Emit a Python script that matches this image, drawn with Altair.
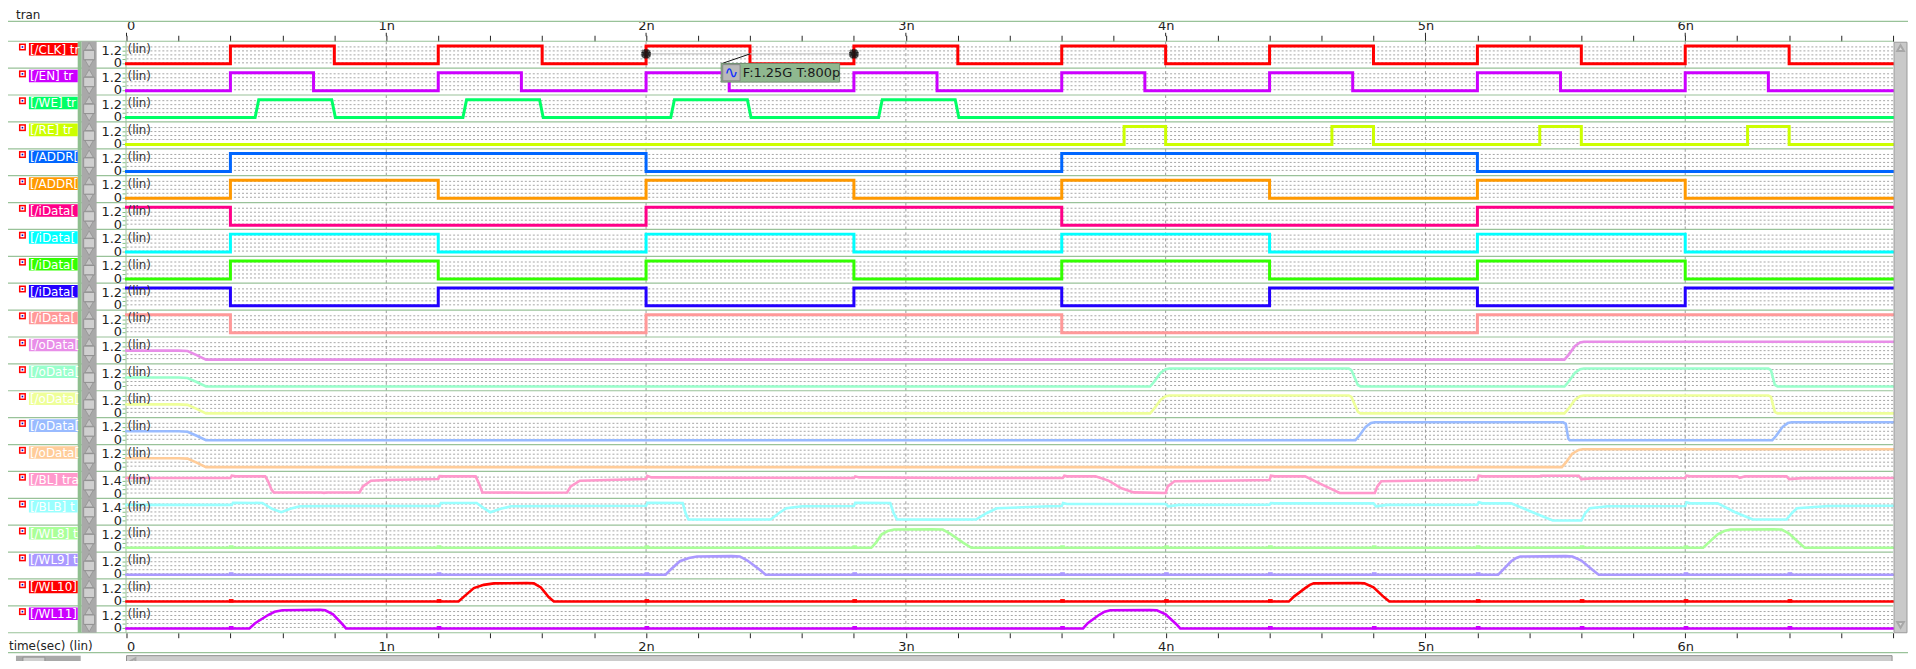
import altair as alt
import pandas as pd

# ---------------- layout constants ----------------
T_END = 6.8
ROW_H = 27.0
N_ROWS = 22
PLOT_W = 1774
PLOT_H = 594
FONT = "DejaVu Sans"

# ---------------- categories ----------------
NAMES = ["[/CLK] tran", "[/EN] tran", "[/WE] tran", "[/RE] tran",
         "[/ADDR[1]] tran", "[/ADDR[0]] tran",
         "[/iData[4]] tran", "[/iData[3]] tran", "[/iData[2]] tran",
         "[/iData[1]] tran", "[/iData[0]] tran",
         "[/oData[4]] tran", "[/oData[3]] tran", "[/oData[2]] tran",
         "[/oData[1]] tran", "[/oData[0]] tran",
         "[/BL] tran", "[/BLB] tran", "[/WL8] tran", "[/WL9] tran",
         "[/WL10] tran", "[/WL11] tran"]
COLORS = ["#ff0000", "#cc00ff", "#00ff66", "#ccff00",
          "#0066ff", "#ff9900",
          "#ff0088", "#00ffff", "#33ff00", "#2200ff", "#ff9999",
          "#e88ee8", "#99ffcc", "#eeff99", "#99bbff", "#ffcc99",
          "#ff99cc", "#99ffff", "#aaff99", "#aa99ff", "#ff0000", "#cc00ff"]
TOP_LABELS = ["1.2"] * 16 + ["1.4", "1.4"] + ["1.2"] * 4
VMAX = [1.2] * 16 + [1.4, 1.4] + [1.2] * 4

X_TICKS = [0, 0.2, 0.4, 0.6, 0.8, 1, 1.2, 1.4, 1.6, 1.8, 2, 2.2, 2.4, 2.6, 2.8,
           3, 3.2, 3.4, 3.6, 3.8, 4, 4.2, 4.4, 4.6, 4.8, 5, 5.2, 5.4, 5.6, 5.8,
           6, 6.2, 6.4, 6.6, 6.8]
MAJOR_TICKS = [0, 1, 2, 3, 4, 5, 6]
NS_LINES = [1, 2, 3, 4, 5, 6]

# ---------------- digital signals: (initial level, edge times) ----------------
CLK_EDGES = [0.4, 0.8, 1.2, 1.6, 2.0, 2.4, 2.8, 3.2, 3.6, 4.0, 4.4, 4.8, 5.2, 5.6, 6.0, 6.4]
EN_EDGES = [0.4, 0.72, 1.2, 1.52, 2.0, 2.32, 2.8, 3.12, 3.6, 3.92, 4.4, 4.72, 5.2, 5.52, 6.0, 6.32]
WE_EDGES = [0.495, 0.79, 1.295, 1.59, 2.095, 2.39, 2.895, 3.19]
RE_EDGES = [3.84, 4.0, 4.64, 4.8, 5.44, 5.6, 6.24, 6.4]
ADDR1_EDGES = [0.4, 2.0, 3.6, 5.2]
ADDR0_EDGES = [0.4, 1.2, 2.0, 2.8, 3.6, 4.4, 5.2, 6.0]
IDATA4_EDGES = [0.4, 2.0, 3.6, 5.2]
IDATA3_EDGES = [0.4, 1.2, 2.0, 2.8, 3.6, 4.4, 5.2, 6.0]
IDATA2_EDGES = [0.4, 1.2, 2.0, 2.8, 3.6, 4.4, 5.2, 6.0]
IDATA1_EDGES = [0.4, 1.2, 2.0, 2.8, 3.6, 4.4, 5.2, 6.0]
IDATA0_EDGES = [0.4, 2.0, 3.6, 5.2]
DIGITAL = [  # (row, initial level, edges, transition width)
    (0, 0.0, CLK_EDGES, 0.0), (1, 0.0, EN_EDGES, 0.0), (2, 0.0, WE_EDGES, 0.014),
    (3, 0.0, RE_EDGES, 0.0), (4, 0.0, ADDR1_EDGES, 0.0), (5, 0.0, ADDR0_EDGES, 0.0),
    (6, 1.2, IDATA4_EDGES, 0.0), (7, 0.0, IDATA3_EDGES, 0.0), (8, 0.0, IDATA2_EDGES, 0.0),
    (9, 1.2, IDATA1_EDGES, 0.0), (10, 1.2, IDATA0_EDGES, 0.0)]

# ---------------- analog signals: (time ns, volts) ----------------
ODATA4 = [(0, 0.6), (0.2, 0.6), (0.235, 0.57), (0.27, 0.3), (0.306, 0.0),
          (5.535, 0.0), (5.55, 0.3), (5.575, 0.9), (5.595, 1.15), (5.61, 1.2), (6.8, 1.2)]
ODATA3 = [(0, 0.6), (0.2, 0.6), (0.235, 0.57), (0.27, 0.3), (0.306, 0.0),
          (3.94, 0.0), (3.955, 0.3), (3.98, 0.9), (4.0, 1.15), (4.015, 1.2),
          (4.705, 1.2), (4.715, 1.1), (4.74, 0.1), (4.75, 0.0),
          (5.535, 0.0), (5.55, 0.3), (5.575, 0.9), (5.595, 1.15), (5.61, 1.2),
          (6.32, 1.2), (6.33, 1.1), (6.345, 0.1), (6.355, 0.0), (6.8, 0.0)]
ODATA2 = [(0, 0.6), (0.2, 0.6), (0.235, 0.57), (0.27, 0.3), (0.306, 0.0),
          (3.94, 0.0), (3.955, 0.3), (3.98, 0.9), (4.0, 1.15), (4.015, 1.2),
          (4.705, 1.2), (4.715, 1.1), (4.74, 0.1), (4.75, 0.0),
          (5.535, 0.0), (5.55, 0.3), (5.575, 0.9), (5.595, 1.15), (5.61, 1.2),
          (6.32, 1.2), (6.33, 1.1), (6.345, 0.1), (6.355, 0.0), (6.8, 0.0)]
ODATA1 = [(0, 0.6), (0.2, 0.6), (0.235, 0.57), (0.27, 0.3), (0.306, 0.0),
          (4.73, 0.0), (4.745, 0.3), (4.77, 0.9), (4.79, 1.15), (4.805, 1.2),
          (5.53, 1.2), (5.54, 1.1), (5.55, 0.1), (5.555, 0.0),
          (6.335, 0.0), (6.35, 0.3), (6.375, 0.9), (6.395, 1.15), (6.41, 1.2), (6.8, 1.2)]
ODATA0 = [(0, 0.6), (0.2, 0.6), (0.235, 0.57), (0.27, 0.3), (0.306, 0.0),
          (5.525, 0.0), (5.54, 0.3), (5.565, 0.9), (5.59, 1.15), (5.605, 1.2), (6.8, 1.2)]
BL = [(0, 1.25), (0.4, 1.25), (0.405, 1.43), (0.42, 1.38), (0.534, 1.38), (0.545, 1.0),
      (0.558, 0.35), (0.567, 0.13), (0.75, 0.12), (0.76, 0.09), (0.77, 0.12), (0.897, 0.12),
      (0.91, 0.6), (0.941, 1.04), (1.0, 1.1), (1.2, 1.17), (1.205, 1.4), (1.22, 1.38),
      (1.344, 1.38), (1.357, 0.8), (1.37, 0.13), (1.55, 0.1), (1.696, 0.12), (1.71, 0.6),
      (1.745, 1.04), (1.85, 1.1), (2.0, 1.17), (2.005, 1.42), (2.02, 1.3), (2.39, 1.27),
      (2.8, 1.25), (2.805, 1.38), (2.82, 1.3), (3.2, 1.25), (3.604, 1.25), (3.61, 1.43),
      (3.62, 1.38), (3.73, 1.38), (3.78, 1.05), (3.83, 0.45), (3.877, 0.13), (4.0, 0.08),
      (4.008, 0.6), (4.034, 1.0), (4.21, 1.04), (4.4, 1.09), (4.405, 1.43), (4.42, 1.38),
      (4.537, 1.38), (4.6, 0.75), (4.67, 0.08), (4.805, 0.08), (4.815, 0.6), (4.83, 1.0),
      (5.0, 1.06), (5.2, 1.09), (5.205, 1.43), (5.22, 1.38), (5.44, 1.38), (5.445, 1.43),
      (5.59, 1.43), (5.6, 1.17), (5.64, 1.22), (6.0, 1.25), (6.005, 1.43), (6.02, 1.38),
      (6.2, 1.38), (6.21, 1.27), (6.23, 1.38), (6.39, 1.38), (6.4, 1.17), (6.45, 1.24), (6.8, 1.25)]
BLB = [(0, 1.25), (0.405, 1.25), (0.41, 1.42), (0.523, 1.4), (0.56, 0.95), (0.596, 0.68),
       (0.63, 0.95), (0.667, 1.14), (0.8, 1.16), (1.205, 1.17), (1.21, 1.4), (1.348, 1.4),
       (1.375, 1.0), (1.40, 0.68), (1.44, 0.95), (1.48, 1.14), (1.7, 1.17), (2.0, 1.18),
       (2.005, 1.42), (2.141, 1.4), (2.152, 0.6), (2.163, 0.11), (2.3, 0.1), (2.48, 0.11),
       (2.51, 0.6), (2.54, 0.99), (2.6, 1.14), (2.8, 1.16), (2.805, 1.42), (2.94, 1.4),
       (2.953, 0.6), (2.966, 0.11), (3.1, 0.1), (3.27, 0.11), (3.31, 0.6), (3.35, 0.99),
       (3.55, 1.14), (3.6, 1.16), (3.605, 1.4), (3.62, 1.32), (4.0, 1.32), (4.01, 1.14),
       (4.05, 1.25), (4.4, 1.27), (4.405, 1.4), (4.42, 1.37), (4.8, 1.37), (4.81, 1.14),
       (4.85, 1.25), (5.2, 1.27), (5.205, 1.45), (5.22, 1.37), (5.33, 1.37), (5.41, 0.7),
       (5.49, 0.03), (5.6, 0.03), (5.615, 0.6), (5.633, 0.99), (5.7, 1.14), (6.0, 1.16),
       (6.005, 1.45), (6.02, 1.37), (6.125, 1.37), (6.19, 0.7), (6.26, 0.11), (6.39, 0.11),
       (6.41, 0.6), (6.43, 0.99), (6.55, 1.17), (6.8, 1.19)]
WL8 = [(0, 0.0), (2.867, 0.0), (2.885, 0.35), (2.907, 0.9), (2.93, 1.12), (2.955, 1.22),
       (3.1, 1.24), (3.142, 1.22), (3.17, 0.95), (3.22, 0.35), (3.252, 0.0),
       (6.069, 0.0), (6.09, 0.35), (6.125, 0.9), (6.15, 1.12), (6.174, 1.22), (6.34, 1.24),
       (6.371, 1.22), (6.4, 0.95), (6.44, 0.3), (6.46, 0.0), (6.8, 0.0)]
WL9 = [(0, 0.0), (2.075, 0.0), (2.095, 0.35), (2.13, 0.9), (2.165, 1.12), (2.196, 1.22),
       (2.33, 1.24), (2.361, 1.22), (2.39, 0.95), (2.44, 0.3), (2.46, 0.0),
       (5.28, 0.0), (5.3, 0.35), (5.33, 0.9), (5.35, 1.12), (5.365, 1.22), (5.54, 1.24),
       (5.566, 1.22), (5.6, 0.95), (5.645, 0.3), (5.667, 0.0), (6.8, 0.0)]
WL10 = [(0, 0.0), (1.278, 0.0), (1.3, 0.35), (1.337, 0.9), (1.375, 1.12), (1.414, 1.22),
        (1.54, 1.24), (1.568, 1.22), (1.595, 0.95), (1.625, 0.3), (1.645, 0.0),
        (4.474, 0.0), (4.495, 0.35), (4.537, 0.9), (4.555, 1.12), (4.57, 1.22), (4.74, 1.24),
        (4.765, 1.22), (4.8, 0.95), (4.84, 0.3), (4.861, 0.0), (6.8, 0.0)]
WL11 = [(0, 0.0), (0.473, 0.0), (0.495, 0.35), (0.545, 0.9), (0.57, 1.12), (0.6, 1.22),
        (0.745, 1.25), (0.765, 1.22), (0.795, 0.95), (0.83, 0.3), (0.845, 0.0),
        (3.682, 0.0), (3.7, 0.35), (3.743, 0.9), (3.765, 1.12), (3.787, 1.22), (3.94, 1.24),
        (3.966, 1.22), (4.0, 0.95), (4.04, 0.3), (4.056, 0.0), (6.8, 0.0)]
ANALOG = [(11, ODATA4), (12, ODATA3), (13, ODATA2), (14, ODATA1), (15, ODATA0),
          (16, BL), (17, BLB), (18, WL8), (19, WL9), (20, WL10), (21, WL11)]

# small switching glitches on the word lines (time ns)
WL8_GLITCH = [0.4, 1.2, 2.0, 2.8, 3.6, 4.0, 4.4, 4.8, 5.2, 5.6, 6.0]
WL9_GLITCH = [0.4, 1.2, 2.0, 2.8, 3.6, 4.0, 4.4, 4.8, 5.2, 6.0, 6.4]
WL10_GLITCH = [0.4, 1.2, 2.0, 2.8, 3.6, 4.0, 4.4, 5.2, 5.6, 6.0, 6.4]
WL11_GLITCH = [0.4, 1.2, 2.0, 2.8, 3.6, 4.4, 4.8, 5.2, 5.6, 6.0, 6.4]
GLITCHES = [(18, WL8_GLITCH), (19, WL9_GLITCH), (20, WL10_GLITCH), (21, WL11_GLITCH)]

# cursor measurement
MEAS_T = [2.0, 2.8]
MEAS_TEXT = "F:1.25G T:800p"

# ---------------- helpers: volts -> row position (px from plot top) ----------------
def ypos(r, v):
    return r * ROW_H + 22.7 - v / VMAX[r] * 18.0

recs = []
for r, init, edges, tw in DIGITAL:
    lev = init
    pts = [(0.0, lev)]
    for e in edges:
        new = 0.0 if lev > 0 else 1.2
        pts.append((e, lev))
        pts.append((e + tw, new))
        lev = new
    pts.append((T_END, lev))
    for i, (t, v) in enumerate(pts):
        recs.append({"name": NAMES[r], "t": t, "y": ypos(r, v), "idx": i, "sw": 3.0})
for r, pts in ANALOG:
    for i, (t, v) in enumerate(pts):
        recs.append({"name": NAMES[r], "t": t, "y": ypos(r, v), "idx": i, "sw": 2.6})
sig = pd.DataFrame(recs)

glit = pd.DataFrame([{"name": NAMES[r], "t0": t - 0.006, "t1": t + 0.012,
                      "y0": ypos(r, 0) + 1.0, "y1": ypos(r, 0) - 2.5}
                     for r, ts in GLITCHES for t in ts])

rows = pd.DataFrame({"r": list(range(N_ROWS)), "name": NAMES, "toplab": TOP_LABELS})
rows["top"] = rows["r"] * ROW_H
for col, off in [("lab0", 1.7), ("lab1", 14.3), ("labc", 8.4), ("ic0", 2.3), ("ic1", 9.3),
                 ("icw0", 3.8), ("icw1", 7.8), ("icb0", 5.0), ("icb1", 6.6),
                 ("hi", 9.8), ("lo", 22.3), ("up", 5.0), ("th0", 9.2), ("th1", 18.6),
                 ("dn", 22.4), ("lin", 8.3)]:
    rows[col] = rows["top"] + off
rows["zero"] = "0"
rows["lintxt"] = "(lin)"

DOT_OFFSETS = [5.7, 9.7, 13.7, 17.7, 21.7]
dots = pd.DataFrame([{"y": r * ROW_H + o} for r in range(N_ROWS) for o in DOT_OFFSETS])
seps = pd.DataFrame({"y": [r * ROW_H for r in range(N_ROWS + 1)]})
ticks_small = pd.DataFrame([{"y": r * ROW_H + o} for r in range(N_ROWS) for o in [5.7, 10.0, 14.0, 18.3, 22.7]])
ns = pd.DataFrame({"t": NS_LINES})
majors = pd.DataFrame({"t": MAJOR_TICKS})
one = pd.DataFrame({"a": [0]})

XS = alt.Scale(domain=[0, T_END], nice=False, zero=False)
YS = alt.Scale(domain=[0, PLOT_H], reverse=True, nice=False, zero=False)
CS = alt.Scale(domain=NAMES, range=COLORS)

label_expr = ("abs(datum.value - round(datum.value)) < 0.01 ? "
              "(round(datum.value) == 0 ? '0' : round(datum.value) + 'n') : ''")
top_axis = alt.Axis(orient="top", values=X_TICKS, labelExpr=label_expr, tickSize=6,
                    tickColor="#222222", domain=False, grid=False, labelFontSize=13,
                    labelFont=FONT, labelColor="#222222", labelPadding=3, labelFlush=True,
                    labelOverlap=False, title=None)
bot_axis = alt.Axis(orient="bottom", values=X_TICKS, labelExpr=label_expr, tickSize=5,
                    tickColor="#222222", domain=False, grid=False, labelFontSize=13,
                    labelFont=FONT, labelColor="#222222", labelPadding=3, labelFlush=True,
                    labelOverlap=False, title=None)


def X(field):
    return alt.X(field, scale=XS, axis=None)


def Y(field):
    return alt.Y(field, scale=YS, axis=None)


GREEN = "#99c299"
ZW = "\u200b"

# ---- plot-area grid ----
dot_layer = alt.Chart(dots).mark_rule(color="#a6a6a6", strokeWidth=1, strokeDash=[2, 2]).encode(
    x=alt.value(0), x2=alt.value(PLOT_W), y=Y("y:Q"))
ns_layer = alt.Chart(ns).mark_rule(color="#9a9a9a", strokeWidth=1, strokeDash=[3, 3]).encode(
    x=alt.X("t:Q", scale=XS, axis=bot_axis), y=alt.value(0), y2=alt.value(PLOT_H))
major_top = alt.Chart(majors).mark_rule(color="#222222", strokeWidth=1).encode(
    x=X("t:Q"), y=alt.value(-8.5), y2=alt.value(-5))
sep_layer = alt.Chart(seps).mark_rule(color=GREEN, strokeWidth=1.2).encode(
    x=alt.value(-119), x2=alt.value(PLOT_W), y=Y("y:Q"))
frame = alt.Chart(pd.DataFrame({"y": [-20, 614]})).mark_rule(color=GREEN, strokeWidth=1.2).encode(
    x=alt.value(-119), x2=alt.value(PLOT_W + 15), y=Y("y:Q"))
left_border = alt.Chart(one).mark_rule(color=GREEN, strokeWidth=1).encode(
    x=alt.value(-0.5), y=alt.value(0), y2=alt.value(PLOT_H))
small_ticks = alt.Chart(ticks_small).mark_rule(color="#7fbf7f", strokeWidth=1).encode(
    x=alt.value(-4), x2=alt.value(-1), y=Y("y:Q"))

# ---- left panel ----
strip = alt.Chart(one).mark_rect(color="#8fbf8f").encode(
    x=alt.value(-49), x2=alt.value(-45), y=alt.value(0), y2=alt.value(PLOT_H))
scroll_bg = alt.Chart(one).mark_rect(color="#a9a9a9").encode(
    x=alt.value(-45), x2=alt.value(-30), y=alt.value(0), y2=alt.value(PLOT_H))
thumb = alt.Chart(rows).mark_rect(color="#cfcfcf", stroke="#8a8a8a", strokeWidth=0.8).encode(
    x=alt.value(-43), x2=alt.value(-32), y=Y("th0:Q"), y2="th1:Q")
up_arrow = alt.Chart(rows).mark_point(shape="triangle-up", filled=True, size=70,
                                      color="#d2d2d2", stroke="#8a8a8a", strokeWidth=0.8).encode(
    x=alt.value(-37.5), y=Y("up:Q"))
dn_arrow = alt.Chart(rows).mark_point(shape="triangle-down", filled=True, size=70,
                                      color="#d2d2d2", stroke="#8a8a8a", strokeWidth=0.8).encode(
    x=alt.value(-37.5), y=Y("dn:Q"))
icon_r = alt.Chart(rows).mark_rect(color="#ff0000").encode(
    x=alt.value(-108), x2=alt.value(-101), y=Y("ic0:Q"), y2="ic1:Q")
icon_w = alt.Chart(rows).mark_rect(color="#ffffff").encode(
    x=alt.value(-106.5), x2=alt.value(-102.5), y=Y("icw0:Q"), y2="icw1:Q")
icon_b = alt.Chart(rows).mark_rect(color="#0000cc").encode(
    x=alt.value(-105.3), x2=alt.value(-103.7), y=Y("icb0:Q"), y2="icb1:Q")
lab_box = alt.Chart(rows).mark_rect().encode(
    x=alt.value(-98), x2=alt.value(-49), y=Y("lab0:Q"), y2="lab1:Q",
    color=alt.Color("name:N", scale=CS, legend=None))
lab_txt = alt.Chart(rows).mark_text(align="left", baseline="middle", font=FONT, fontSize=12,
                                    color="white", limit=50, ellipsis=ZW).encode(
    x=alt.value(-97), y=Y("labc:Q"), text="name:N")
hi_txt = alt.Chart(rows).mark_text(align="right", baseline="middle", font=FONT, fontSize=13,
                                   color="#222222").encode(
    x=alt.value(-4.5), y=Y("hi:Q"), text="toplab:N")
lo_txt = alt.Chart(rows).mark_text(align="right", baseline="middle", font=FONT, fontSize=13,
                                   color="#222222").encode(
    x=alt.value(-4.5), y=Y("lo:Q"), text="zero:N")
lin_txt = alt.Chart(rows).mark_text(align="left", baseline="middle", font=FONT, fontSize=12,
                                    color="#333333").encode(
    x=alt.value(1), y=Y("lin:Q"), text="lintxt:N")

# ---- signals ----
lines = alt.Chart(sig).mark_line(interpolate="linear", strokeJoin="miter", strokeCap="square").encode(
    x=alt.X("t:Q", scale=XS, axis=top_axis),
    y=Y("y:Q"),
    color=alt.Color("name:N", scale=CS, legend=None),
    strokeWidth=alt.StrokeWidth("sw:Q", scale=None),
    detail="name:N",
    order=alt.Order("idx:Q"))
glitch_layer = alt.Chart(glit).mark_rect().encode(
    x=X("t0:Q"), x2="t1:Q", y=Y("y0:Q"), y2="y1:Q",
    color=alt.Color("name:N", scale=CS, legend=None))

# ---- cursor measurement ----
meas = pd.DataFrame({"t": MEAS_T, "y": [12.7, 12.7]})
meas_line = alt.Chart(pd.DataFrame({"t0": [MEAS_T[0]], "t1": [MEAS_T[1]], "y": [12.7]})).mark_rule(
    color="#bbbbbb", strokeWidth=1).encode(x=X("t0:Q"), x2="t1:Q", y=Y("y:Q"))
leader = alt.Chart(pd.DataFrame({"t0": [2.293], "t1": [2.4], "y0": [22.3], "y1": [12.7]})).mark_rule(
    color="#111111", strokeWidth=1).encode(x=X("t0:Q"), x2="t1:Q", y=Y("y0:Q"), y2="y1:Q")
mk0 = alt.Chart(meas).mark_point(shape="square", filled=False, size=60, color="#333333",
                                 strokeWidth=1, strokeDash=[1, 1]).encode(x=X("t:Q"), y=Y("y:Q"))
mk1 = alt.Chart(meas).mark_point(shape="cross", filled=True, size=90, color="#111111").encode(
    x=X("t:Q"), y=Y("y:Q"))
mk2 = alt.Chart(meas).mark_point(shape="cross", filled=True, size=90, color="#111111", angle=45).encode(
    x=X("t:Q"), y=Y("y:Q"))
tip_box = alt.Chart(pd.DataFrame({"t0": [2.289], "t1": [2.745], "y0": [22.3], "y1": [41.0]})).mark_rect(
    color="#8fb88f", stroke="#6f8f6f", strokeWidth=1).encode(
    x=X("t0:Q"), x2="t1:Q", y=Y("y0:Q"), y2="y1:Q")
tip_icon = alt.Chart(pd.DataFrame({"t0": [2.295], "t1": [2.362], "y0": [23.5], "y1": [39.8]})).mark_rect(
    color="#b9b9b9", stroke="#888888", strokeWidth=1).encode(
    x=X("t0:Q"), x2="t1:Q", y=Y("y0:Q"), y2="y1:Q")
tip_glyph = alt.Chart(pd.DataFrame({"t": [2.3285], "y": [31.6], "s": ["∿"]})).mark_text(
    font=FONT, fontSize=17, color="#1030ff", baseline="middle").encode(
    x=X("t:Q"), y=Y("y:Q"), text="s:N")
tip_text = alt.Chart(pd.DataFrame({"t": [2.372], "y": [31.8], "s": [MEAS_TEXT]})).mark_text(
    font=FONT, fontSize=13, color="#1a1a1a", align="left", baseline="middle").encode(
    x=X("t:Q"), y=Y("y:Q"), text="s:N")

# ---- chrome: title, scrollbars ----
tran_txt = alt.Chart(pd.DataFrame({"s": ["tran"]})).mark_text(
    font=FONT, fontSize=12, color="#222222", align="left", baseline="middle").encode(
    x=alt.value(-111), y=alt.value(-26.5), text="s:N")
time_txt = alt.Chart(pd.DataFrame({"s": ["time(sec) (lin)"]})).mark_text(
    font=FONT, fontSize=12, color="#222222", align="left", baseline="middle").encode(
    x=alt.value(-118), y=alt.value(607.5), text="s:N")
vscroll = alt.Chart(one).mark_rect(color="#c9c9c9", stroke="#9a9a9a", strokeWidth=1).encode(
    x=alt.value(PLOT_W + 1), x2=alt.value(PLOT_W + 14), y=alt.value(1), y2=alt.value(PLOT_H))
vscroll_up = alt.Chart(one).mark_point(shape="triangle-up", filled=True, size=45,
                                       color="#e2e2e2", stroke="#999999").encode(
    x=alt.value(PLOT_W + 7.5), y=alt.value(7))
vscroll_dn = alt.Chart(one).mark_point(shape="triangle-down", filled=True, size=45,
                                       color="#e2e2e2", stroke="#999999").encode(
    x=alt.value(PLOT_W + 7.5), y=alt.value(PLOT_H - 8))
hs_left_bg = alt.Chart(one).mark_rect(color="#a9a9a9").encode(
    x=alt.value(-111), x2=alt.value(-46), y=alt.value(617), y2=alt.value(629))
hs_left_th = alt.Chart(one).mark_rect(color="#d0d0d0", stroke="#8a8a8a", strokeWidth=0.8).encode(
    x=alt.value(-104), x2=alt.value(-82), y=alt.value(618.5), y2=alt.value(627.5))
hs_main = alt.Chart(one).mark_rect(color="#cccccc", stroke="#8f8f8f", strokeWidth=1).encode(
    x=alt.value(0), x2=alt.value(PLOT_W - 1), y=alt.value(617), y2=alt.value(629))
hs_arrow = alt.Chart(one).mark_point(shape="triangle-left", filled=True, size=45,
                                     color="#e4e4e4", stroke="#999999").encode(
    x=alt.value(6), y=alt.value(623))

chart = alt.layer(
    dot_layer, ns_layer, major_top, sep_layer, frame, left_border, small_ticks,
    strip, scroll_bg, thumb, up_arrow, dn_arrow,
    icon_r, icon_w, icon_b, lab_box, lab_txt, hi_txt, lo_txt,
    lines, glitch_layer, lin_txt,
    meas_line, mk0, mk1, mk2, leader, tip_box, tip_icon, tip_glyph, tip_text,
    tran_txt, time_txt, vscroll, vscroll_up, vscroll_dn,
    hs_left_bg, hs_left_th, hs_main, hs_arrow,
).properties(
    width=PLOT_W, height=PLOT_H,
    autosize=alt.AutoSizeParams(type="none"),
    padding={"left": 119, "top": 32, "right": 15, "bottom": 27},
    background="white",
).configure_view(strokeWidth=0)

chart.save("out.html", embed_options={"renderer": "svg", "actions": False})
